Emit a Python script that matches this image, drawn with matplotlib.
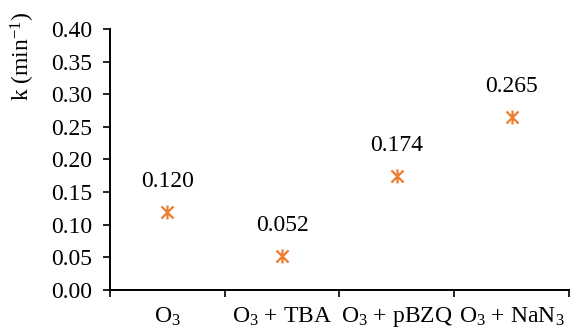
import matplotlib
matplotlib.use("Agg")
import matplotlib.pyplot as plt
from matplotlib.path import Path
from matplotlib.ticker import FixedLocator, NullFormatter

plt.rcParams['font.family'] = ['Liberation Serif', 'DejaVu Serif']
plt.rcParams['mathtext.fontset'] = 'custom'
plt.rcParams['mathtext.rm'] = 'Liberation Serif'
plt.rcParams['mathtext.it'] = 'Liberation Serif:italic'

categories = ['O$_3$', 'O$_3$ + TBA', 'O$_3$ + pBZQ', 'O$_3$ + NaN$_3$']
k_values = [0.120, 0.052, 0.174, 0.265]
value_labels = ['0.120', '0.052', '0.174', '0.265']
y_ticks = [0.00, 0.05, 0.10, 0.15, 0.20, 0.25, 0.30, 0.35, 0.40]

FS = 17

# asterisk marker: an X with a vertical stroke
star = Path(
    [(-1, -1), (1, 1), (-1, 1), (1, -1), (0, -1.15), (0, 1.15)],
    [Path.MOVETO, Path.LINETO, Path.MOVETO, Path.LINETO, Path.MOVETO, Path.LINETO],
)

fig = plt.figure(figsize=(5.70, 3.31), dpi=100)
ax = fig.add_axes([0.193, 0.124, 0.805, 0.7885])

x = list(range(len(categories)))
ax.plot(x, k_values, linestyle='none', marker=star, markersize=10,
        markeredgewidth=1.6, color='#ED7D31')

for xi, v, lab in zip(x, k_values, value_labels):
    ax.annotate(lab, (xi, v), xytext=(0, 22), textcoords='offset points',
                ha='center', va='center', fontsize=FS)

ax.set_xlim(-0.5, len(categories) - 0.5)
ax.set_ylim(0, 0.40)

ax.xaxis.set_major_locator(FixedLocator([i - 0.5 for i in range(len(categories) + 1)]))
ax.xaxis.set_major_formatter(NullFormatter())
ax.xaxis.set_minor_locator(FixedLocator(x))
ax.set_xticklabels(categories, minor=True)
ax.tick_params(axis='x', which='major', direction='out', length=5, width=1.2)
ax.tick_params(axis='x', which='minor', length=0, pad=11, labelsize=FS)

ax.set_yticks(y_ticks)
ax.set_yticklabels([f'{t:.2f}' for t in y_ticks])
ax.tick_params(axis='y', direction='out', length=5, width=1.2, labelsize=FS, pad=8)

ax.set_ylabel('k (min$^{-1}$)', fontsize=FS)
ax.yaxis.set_label_coords(-0.16, 0.895)

for side in ('top', 'right'):
    ax.spines[side].set_visible(False)
for side in ('left', 'bottom'):
    ax.spines[side].set_linewidth(1.4)
    ax.spines[side].set_color('black')

fig.savefig('out.png', dpi=100)
